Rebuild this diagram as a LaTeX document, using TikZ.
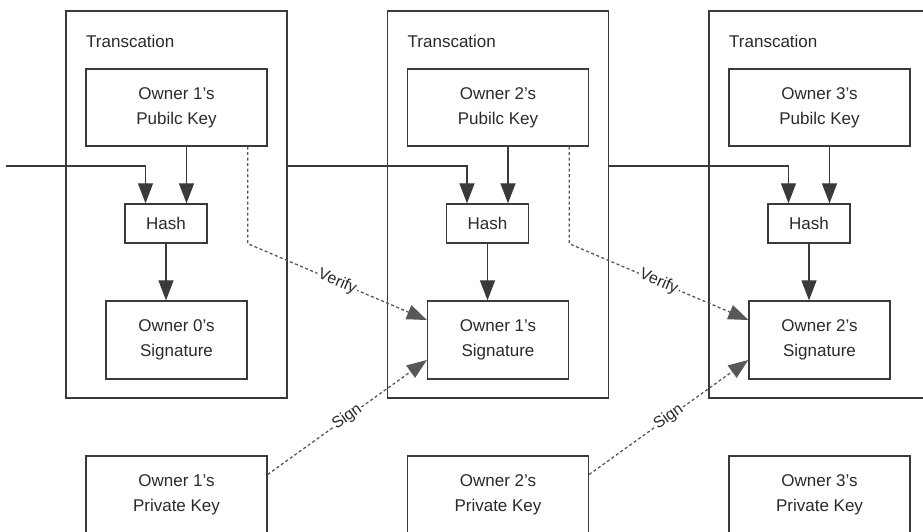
\documentclass[tikz,border=0pt]{standalone}
\usepackage{fontspec}
\setmainfont{Liberation Sans}
\usetikzlibrary{arrows.meta,calc}
\definecolor{lnc}{HTML}{3A3A3A}
\definecolor{txc}{HTML}{2A2A2A}
\begin{document}
\begin{tikzpicture}[x=1pt,y=-1pt,
  box/.style={draw=lnc, line width=1.3pt, inner sep=0pt, align=center, font=\fontsize{17}{25}\selectfont, text=txc},
  txbox/.style={draw=lnc, line width=1.3pt, inner sep=0pt},
  arr/.style={draw=lnc, line width=1.2pt, -{Triangle[length=20pt,width=15pt]}},
  vs/.style={draw=lnc!85, line width=1.3pt, dash pattern=on 3pt off 2.5pt, -{Triangle[length=20pt,width=15pt]}},
  lab/.style={font=\fontsize{16}{16}\selectfont, text=txc, fill=white, inner sep=1.5pt, sloped},
  ttl/.style={anchor=base west, font=\fontsize{17}{17}\selectfont, text=txc, inner sep=0pt}
]
\clip (0,0) rectangle (923,532);
\fill[white] (0,0) rectangle (923,532);
\foreach \i/\j in {1/0,2/1,3/2}{
  \pgfmathsetmacro\dx{(\i-1)*321.5}
  \node[txbox, minimum width=221pt, minimum height=387pt] (t\i) at (176.5+\dx,204.5) {};
  \node[ttl] (tl\i) at (86+\dx,48) {Transcation};
  \node[box, minimum width=181pt, minimum height=77pt] (pk\i) at (176.5+\dx,107.5) {Owner \i's\\Pubilc Key};
  \node[box, minimum width=82pt, minimum height=39pt] (h\i) at (166+\dx,223.5) {Hash};
  \node[box, minimum width=141pt, minimum height=78pt] (s\i) at (176.5+\dx,340) {Owner \j's\\Signature};
  \node[box, minimum width=181pt, minimum height=77pt] (pr\i) at (176.5+\dx,494.5) {Owner \i's\\Private Key};
  \draw[arr] ([xshift=20.5pt]h\i.north |- pk\i.south) -- ([xshift=20.5pt]h\i.north);
  \draw[arr] (h\i.south) -- (h\i.south |- s\i.north);
}
\coordinate (in0) at (6,166);
\draw[arr] (in0) -| ([xshift=-20.5pt]h1.north);
\draw[arr] (t1.east |- in0) -| ([xshift=-20.5pt]h2.north);
\draw[arr] (t2.east |- in0) -| ([xshift=-20.5pt]h3.north);
\draw[vs] ([xshift=-20pt]pk1.south east) -- ([xshift=-20pt]pk1.south east |- h1.south) -- node[lab]{Verify} ([yshift=20pt]s2.west);
\draw[vs] ([xshift=-20pt]pk2.south east) -- ([xshift=-20pt]pk2.south east |- h2.south) -- node[lab]{Verify} ([yshift=20pt]s3.west);
\draw[vs] ([yshift=20pt]pr1.east) -- node[lab]{Sign} ([yshift=-20pt]s2.west);
\draw[vs] ([yshift=20pt]pr2.east) -- node[lab]{Sign} ([yshift=-20pt]s3.west);
\end{tikzpicture}
\end{document}
